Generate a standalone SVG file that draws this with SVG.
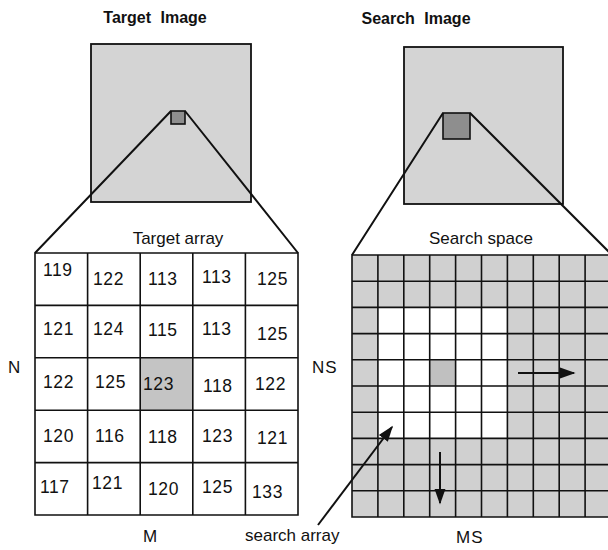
<svg xmlns="http://www.w3.org/2000/svg" width="608" height="550" viewBox="0 0 608 550">
<style>
.t{font-family:"Liberation Sans",Arial,sans-serif;fill:#111}
.title{font-size:16px;font-weight:bold;word-spacing:5px}
.lbl{font-size:17px}
.num{font-size:17.5px;letter-spacing:0.6px}
.ax{font-size:17px}
.box{fill:#d4d4d4;stroke:#111;stroke-width:1.8}
.sq{fill:#8e8e8e;stroke:#111;stroke-width:1.6}
.grid{fill:none;stroke:#111;stroke-width:1.6}
.ln{stroke:#111;stroke-width:2;fill:none}
</style>
<defs>
<marker id="ah" viewBox="0 0 10 10" refX="9" refY="5" markerWidth="8" markerHeight="8" orient="auto" markerUnits="strokeWidth">
<path d="M0,1.5 L10,5 L0,8.5 Z" fill="#111"/>
</marker>
</defs>
<rect width="608" height="550" fill="#fff"/>

<g id="target-image">
<text class="t title" x="155" y="23" text-anchor="middle">Target Image</text>
<rect class="box" x="91" y="44" width="160" height="158"/>
<rect class="sq" x="171" y="111" width="14" height="13"/>
</g>

<g id="search-image">
<text class="t title" x="416" y="24" text-anchor="middle">Search Image</text>
<rect class="box" x="404" y="47" width="159" height="157"/>
<rect class="sq" x="443" y="113" width="27" height="26"/>
</g>

<g id="target-array">
<text class="t lbl" x="178" y="244" text-anchor="middle">Target array</text>
<rect x="35" y="253" width="263" height="262" fill="#fff"/>
<rect x="140.2" y="357.8" width="52.6" height="52.4" fill="#c4c4c4"/>
<path class="grid" d="M35,253 H298 V515 H35 Z M87.6,253 V515 M140.2,253 V515 M192.8,253 V515 M245.4,253 V515 M35,305.4 H298 M35,357.8 H298 M35,410.2 H298 M35,462.6 H298"/>
<g class="t num">
<text x="43" y="276">119</text><text x="93" y="285">122</text><text x="148" y="285">113</text><text x="202" y="283">113</text><text x="257" y="285">125</text>
<text x="43" y="335">121</text><text x="93" y="335">124</text><text x="148" y="336">115</text><text x="202" y="335">113</text><text x="257" y="340">125</text>
<text x="43" y="388">122</text><text x="95" y="388">125</text><text x="143" y="390">123</text><text x="203" y="392">118</text><text x="255" y="390">122</text>
<text x="43" y="442">120</text><text x="95" y="442">116</text><text x="148" y="443">118</text><text x="202" y="442">123</text><text x="257" y="444">121</text>
<text x="40" y="493">117</text><text x="92" y="489">121</text><text x="148" y="495">120</text><text x="202" y="493">125</text><text x="252" y="498">133</text>
</g>
</g>

<g id="search-space">
<text class="t lbl" x="481" y="244" text-anchor="middle">Search space</text>
<rect x="352" y="255" width="259" height="262" fill="#d0d0d0"/>
<rect x="377.9" y="307.4" width="129.5" height="131" fill="#fff"/>
<rect x="429.7" y="359.8" width="25.9" height="26.2" fill="#c0c0c0"/>
<path class="grid" d="M352,255 H611 V517 H352 Z M377.9,255 V517 M403.8,255 V517 M429.7,255 V517 M455.6,255 V517 M481.5,255 V517 M507.4,255 V517 M533.3,255 V517 M559.2,255 V517 M585.1,255 V517 M352,281.2 H611 M352,307.4 H611 M352,333.6 H611 M352,359.8 H611 M352,386 H611 M352,412.2 H611 M352,438.4 H611 M352,464.6 H611 M352,490.8 H611"/>
</g>

<g id="labels">
<text class="t ax" x="8" y="373">N</text>
<text class="t ax" x="312" y="373" letter-spacing="1">NS</text>
<text class="t ax" x="143" y="542">M</text>
<text class="t ax" x="456" y="543" letter-spacing="1">MS</text>
<text class="t ax" x="245" y="541">search array</text>
</g>

<g id="connectors">
<path class="ln" d="M171,111 L35,253 M185,111 L298,253"/>
<path class="ln" d="M443,113 L352,255 M470,113 L612,255"/>
<line class="ln" x1="518" y1="373" x2="574" y2="373" stroke-width="1.6" marker-end="url(#ah)"/>
<line class="ln" x1="440" y1="452" x2="440" y2="503" stroke-width="1.6" marker-end="url(#ah)"/>
<line class="ln" x1="318" y1="525" x2="392" y2="427" marker-end="url(#ah)"/>
</g>
</svg>
